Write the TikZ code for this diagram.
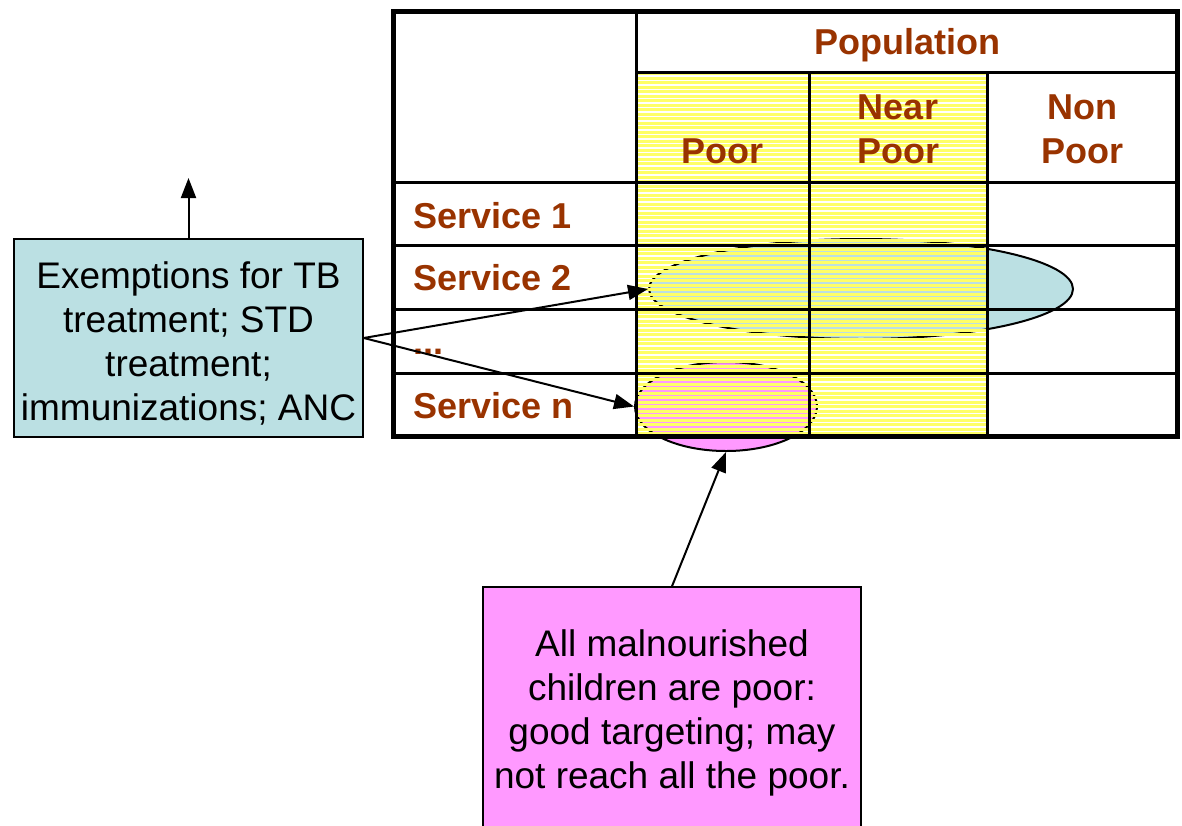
\documentclass[tikz,border=0pt]{standalone}
\usepackage{fontspec}
\setmainfont{Liberation Sans}
\usetikzlibrary{arrows.meta,shapes.geometric}
\definecolor{hdrbrown}{RGB}{153,51,0}
\definecolor{paleblue}{RGB}{187,224,227}
\definecolor{pinkfill}{RGB}{255,153,255}
\definecolor{stripeyellow}{RGB}{255,255,102}

\begin{document}
\begin{tikzpicture}[x=1pt,y=-1pt,
  hdr/.style={font=\fontsize{36}{44}\selectfont\bfseries, text=hdrbrown, inner sep=0pt, align=center},
  note/.style={font=\fontsize{37}{44}\selectfont, inner sep=0pt, align=center},
  callout/.style={draw=black, line width=1.5pt, inner sep=0pt},
  blob/.style={ellipse, draw=black, line width=2pt, inner sep=0pt},
  gridline/.style={line width=3pt},
  frameline/.style={line width=5pt},
  pointer/.style={line width=2pt, -{Triangle[length=20pt,width=15pt]}}
]
\useasboundingbox (0,0) rectangle (1182,825);
\fill[white] (0,0) rectangle (1182,825);

% covered groups, drawn beneath the striped columns
\node[blob, fill=paleblue, minimum width=424pt, minimum height=100pt] (be) at (861,289) {};
\node[blob, fill=pinkfill, minimum width=182pt, minimum height=89pt] (pe) at (726,406.5) {};

% striped fill of the Poor and Near Poor columns
\foreach \i in {0,...,80}
  \fill[stripeyellow] (636,{72+4.5*\i}) rectangle (987,{72+4.5*\i+3.3});

% table rules
\draw[gridline] (636,72) -- (1177,72);
\foreach \y in {182,245,309,373}
  \draw[gridline] (393,\y) -- (1177,\y);
\draw[gridline] (636,11) -- (636,436);
\draw[gridline] (809,72) -- (809,436);
\draw[gridline] (987,72) -- (987,436);
\draw[frameline] (393,11) rectangle (1177,436);

% headings (base = baseline of the last line)
\node[hdr, anchor=base] (pop) at (907,54) {Population};
\node[hdr, anchor=base] (cpoor) at (722.5,163) {Poor};
\node[hdr, anchor=base] (cnear) at (898,163) {Near\\Poor};
\node[hdr, anchor=base] (cnon) at (1082.5,163) {Non\\Poor};
\node[hdr, anchor=base west] (s1) at (413,228) {Service 1};
\node[hdr, anchor=base west] (s2) at (413,290) {Service 2};
\node[hdr, anchor=base west] (sdots) at (413,354) {...};
\node[hdr, anchor=base west] (sn) at (413,418) {Service n};

% exemptions callout
\node[callout, fill=paleblue, minimum width=349pt, minimum height=198pt] (ex) at (188.5,338) {};
\node[note, anchor=base] (extext) at (188.5,420)
  {Exemptions for TB\\treatment; STD\\treatment;\\immunizations; ANC};
\coordinate (up) at (188.5,178);
\draw[pointer] (ex.north) -- (up);
\draw[pointer] (ex.east) -- (be.west);
\draw[pointer] (ex.east) -- (pe.west);

% malnutrition callout
\node[callout, fill=pinkfill, minimum width=378pt, minimum height=253pt] (mb) at (672,713.5) {};
\node[note, anchor=base] (mbtext) at (672,788)
  {All malnourished\\children are poor:\\good targeting; may\\not reach all the poor.};
\draw[pointer] (mb.north) -- (pe.south);
\end{tikzpicture}
\end{document}
